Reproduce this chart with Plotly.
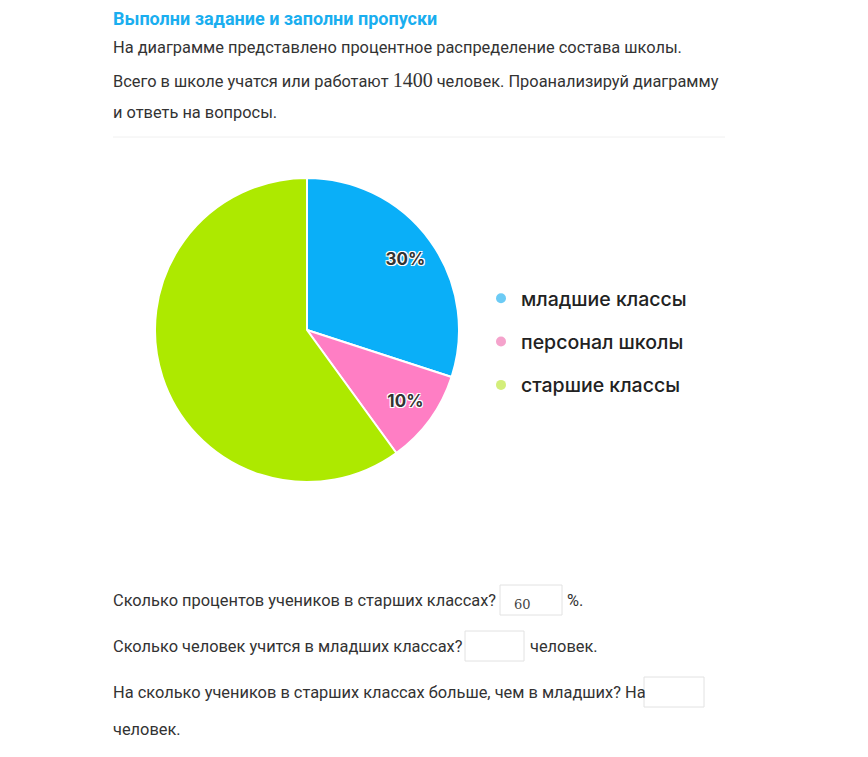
import plotly.graph_objects as go

W, H = 868, 757
OX, OY = 8, 8  # отступ body страницы

# данные диаграммы
groups = ["младшие классы", "персонал школы", "старшие классы"]
shares = [30, 10, 60]
slice_colors = ["#0AAFF8", "#FF7EC4", "#ADE900"]
legend_colors = ["#6CCBF5", "#F5A3CC", "#D3EE7A"]
slice_labels = ["30%", "10%", ""]

# тексты страницы
header = "Выполни задание и заполни пропуски"
intro = [
    "На диаграмме представлено процентное распределение состава школы.",
    "Всего в школе учатся или работают <span style='font-family:Liberation Serif;font-size:20px'>1400</span> человек. Проанализируй диаграмму",
    "и ответь на вопросы.",
]
questions = [
    "Сколько процентов учеников в старших классах?",
    "Сколько человек учится в младших классах?",
    "На сколько учеников в старших классах больше, чем в младших? На",
]
answers = ["60", "", ""]
units = ["%.", "человек.", ""]


def px(x):
    return (x - OX) / W


def py(y):
    return 1 - (y - OY) / H


pie_domain = dict(x=[px(155), px(459)], y=[py(482), py(178)])

fig = go.Figure()

fig.add_trace(go.Pie(
    labels=groups,
    values=shares,
    sort=False,
    direction="clockwise",
    rotation=0,
    marker=dict(colors=slice_colors, line=dict(color="white", width=2)),
    textinfo="none",
    domain=pie_domain,
    showlegend=False,
    hoverinfo="label+percent",
))

# прозрачное кольцо только для подписей процентов (ближе к краю)
fig.add_trace(go.Pie(
    labels=groups,
    values=shares,
    sort=False,
    direction="clockwise",
    rotation=0,
    hole=0.6,
    marker=dict(colors=["rgba(0,0,0,0)"] * 3, line=dict(width=0)),
    text=slice_labels,
    textinfo="text",
    textposition="inside",
    insidetextorientation="horizontal",
    textfont=dict(family="Inter", size=17, color="#333333", weight=700,
                  shadow="1px 1px 0 #fff, -1px -1px 0 #fff, 1px -1px 0 #fff, -1px 1px 0 #fff, 0 0 2px #fff"),
    domain=pie_domain,
    showlegend=False,
    hoverinfo="skip",
))

# легенда с круглыми маркерами
for g, c in zip(groups, legend_colors):
    fig.add_trace(go.Scatter(
        x=[None], y=[None], mode="markers", name=g, legendgroup=g,
        marker=dict(color=c, size=10, symbol="circle"),
    ))

font_body = "Roboto"
fs = 16.4


def note(text, x, y, **font):
    f = dict(family=font_body, size=fs, color="#333333")
    f.update(font)
    return dict(text=text, x=px(x - 2), y=py(y), xref="paper", yref="paper",
                xanchor="left", yanchor="middle", showarrow=False, font=f)


ann = [note("<b>" + header + "</b>", 113, 18, size=18, color="#1AAEEF")]
for i, line in enumerate(intro):
    ann.append(note(line, 113, 47 + i * 32.5))

q_y = [600, 646, 692]
box_x = [(500, 562), (465, 524), (644, 704)]
unit_x = [567, 530, None]
shapes = [dict(type="line", xref="paper", yref="paper", x0=px(113), x1=px(725), y0=py(137), y1=py(137),
               line=dict(color="#F0F0F0", width=1))]
for q, y, (b0, b1), a, u, ux in zip(questions, q_y, box_x, answers, units, unit_x):
    ann.append(note(q, 113, y))
    shapes.append(dict(type="rect", xref="paper", yref="paper", x0=px(b0), x1=px(b1),
                       y0=py(y + 15), y1=py(y - 15), line=dict(color="#E2E2E2", width=1),
                       fillcolor="white", layer="below"))
    if a:
        ann.append(note(a, b0 + 14, y + 4, family="DejaVu Serif", size=13, color="#444444"))
    if u:
        ann.append(note(u, ux, y))
ann.append(note("человек.", 113, 729))

fig.update_layout(
    width=W, height=H,
    margin=dict(l=0, r=0, t=0, b=0),
    paper_bgcolor="white", plot_bgcolor="white",
    xaxis=dict(visible=False), yaxis=dict(visible=False),
    annotations=ann,
    shapes=shapes,
    legend=dict(x=px(481), y=py(279), xanchor="left", yanchor="top",
                font=dict(family="Inter", size=19.5, color="#222222", weight=500),
                itemwidth=30, tracegroupgap=15, bgcolor="rgba(0,0,0,0)"),
)

fig.write_html("out.html")
